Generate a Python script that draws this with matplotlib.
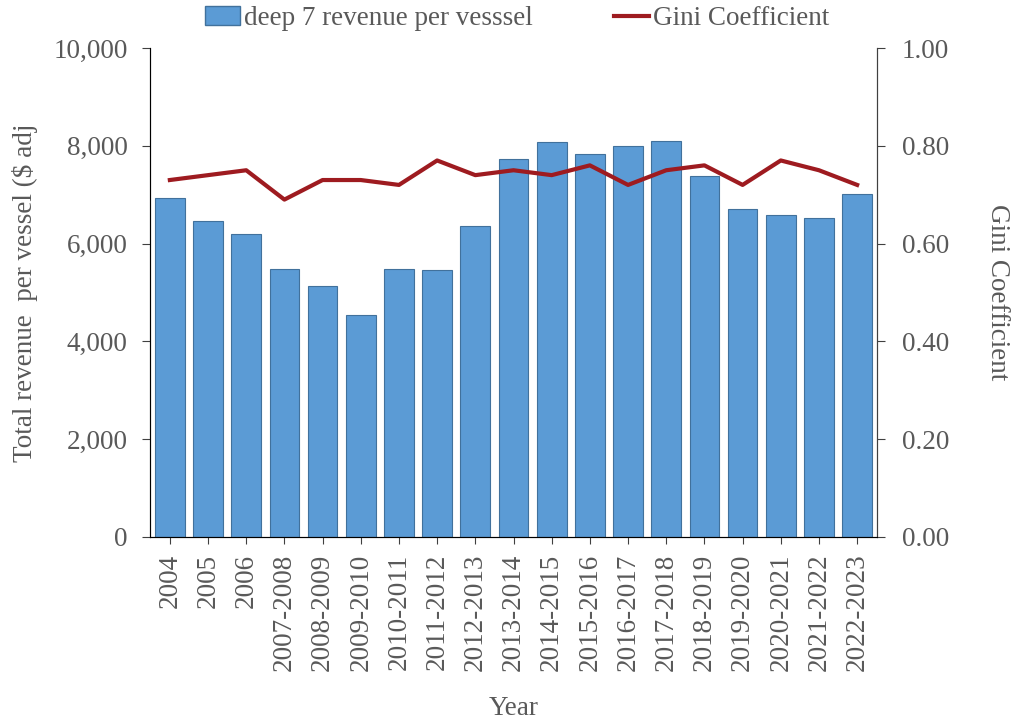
import numpy as np
import matplotlib
matplotlib.use("Agg")
import matplotlib.pyplot as plt
from matplotlib.lines import Line2D
from matplotlib.patches import Patch

years = ["2004", "2005", "2006", "2007-2008", "2008-2009", "2009-2010",
         "2010-2011", "2011-2012", "2012-2013", "2013-2014", "2014-2015",
         "2015-2016", "2016-2017", "2017-2018", "2018-2019", "2019-2020",
         "2020-2021", "2021-2022", "2022-2023"]
revenue = [6930, 6460, 6200, 5480, 5140, 4550, 5490, 5450, 6370, 7740,
           8080, 7830, 8000, 8100, 7380, 6710, 6590, 6520, 7010]
gini = [0.73, 0.74, 0.75, 0.69, 0.73, 0.73, 0.72, 0.77, 0.74, 0.75,
        0.74, 0.76, 0.72, 0.75, 0.76, 0.72, 0.77, 0.75, 0.72]

plt.rcParams['font.family'] = ['Liberation Serif', 'DejaVu Serif']
txt = '#595959'
fs = 19.5

fig = plt.figure(figsize=(10.14, 7.23), dpi=100)
ax = fig.add_axes([150 / 1014, 1 - 537 / 723, 727 / 1014, 489 / 723])
x = np.arange(len(years))
ax.bar(x, revenue, width=0.78, color='#5B9BD5', edgecolor='#41719C', linewidth=0.8)
ax.set_xlim(-0.52, len(years) - 0.48)
ax.set_ylim(0, 10000)
ax.set_yticks(np.arange(0, 10001, 2000))
ax.set_yticklabels([f"{v:,}" for v in range(0, 10001, 2000)])
ax.set_xticks(x)
ax.set_xticklabels(years, rotation=90)
ax.tick_params(axis='y', colors='#404040', labelcolor=txt, labelsize=fs,
               direction='out', length=6, pad=10)
ax.tick_params(axis='x', colors='#404040', labelcolor=txt, labelsize=fs,
               direction='out', length=5, pad=7)
ax.set_ylabel("Total revenue  per vessel ($ adj", color=txt, fontsize=fs, labelpad=11)
ax.set_xlabel("Year", color=txt, fontsize=fs, labelpad=18)
ax.spines['top'].set_visible(False)
for s in ['left', 'bottom', 'right']:
    ax.spines[s].set_color('#404040')

ax2 = ax.twinx()
ax2.plot(x, gini, color='#9E1B20', linewidth=3)
ax2.set_ylim(0, 1)
ax2.set_yticks(np.arange(0, 1.01, 0.2))
ax2.set_yticklabels([f"{v:.2f}" for v in np.arange(0, 1.01, 0.2)])
ax2.tick_params(colors='#404040', labelcolor=txt, labelsize=fs, direction='out',
                length=6, pad=12)
ax2.set_ylabel("Gini Coefficient", color=txt, fontsize=fs, rotation=270, labelpad=44)
ax2.spines['top'].set_visible(False)
ax2.spines['right'].set_color('#404040')

handles = [Patch(facecolor='#5B9BD5', edgecolor='#41719C'),
           Line2D([0], [0], color='#9E1B20', linewidth=3)]
leg = fig.legend(handles, ["deep 7 revenue per vesssel", "Gini Coefficient"],
                 loc='upper center', bbox_to_anchor=(0.51, 1.025), ncol=2, frameon=False,
                 fontsize=fs, columnspacing=3.0, handlelength=1.3, handletextpad=0.15)
for t in leg.get_texts():
    t.set_color(txt)

fig.savefig("out.png", dpi=100)
